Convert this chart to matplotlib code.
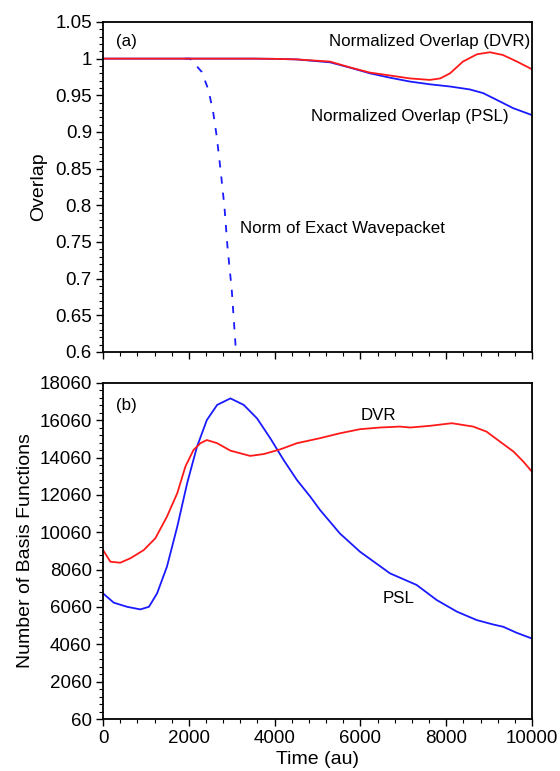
import numpy as np
import matplotlib
matplotlib.use("Agg")
import matplotlib.pyplot as plt
from matplotlib.ticker import MultipleLocator, FixedLocator

plt.rcParams['font.family'] = ['Liberation Sans', 'DejaVu Sans']

# --- (a) overlap ---
t_dvr_a = [0, 1000, 2000, 3000, 3500, 4000, 4500, 5290, 5760, 6220, 6690, 7160, 7620,
           7860, 8090, 8390, 8720, 9020, 9320, 9650, 10000]
ov_dvr = [1.0, 1.0, 1.0, 1.0, 1.0, 0.9997, 0.999, 0.996, 0.988, 0.981, 0.977, 0.973,
          0.971, 0.973, 0.980, 0.996, 1.006, 1.0087, 1.005, 0.996, 0.9855]

t_psl_a = [0, 1000, 2000, 3000, 3500, 4000, 4500, 5290, 5760, 6220, 6690, 7160, 7620,
           8090, 8550, 8860, 9170, 9560, 10000]
ov_psl = [1.0, 1.0, 1.0, 1.0, 1.0, 0.9997, 0.999, 0.995, 0.9877, 0.980, 0.974, 0.9687,
          0.965, 0.962, 0.958, 0.953, 0.944, 0.9325, 0.923]

t_norm = [1900, 2030, 2300, 2460, 2570, 2650, 2740, 2830, 2900, 3000, 3100]
norm_exact = [1.0, 1.0, 0.982, 0.957, 0.926, 0.894, 0.848, 0.798, 0.744, 0.685, 0.6]

# --- (b) number of basis functions ---
t_dvr_b = [0, 170, 400, 640, 950, 1220, 1490, 1730, 1920, 2110, 2270, 2420, 2660, 2970,
           3430, 3750, 4130, 4520, 5060, 5520, 5990, 6460, 6920, 7160, 7620, 8130, 8630,
           8940, 9250, 9570, 9800, 10000]
nb_dvr = [9110, 8485, 8430, 8670, 9110, 9740, 10900, 12150, 13580, 14470, 14830, 15000,
          14830, 14430, 14150, 14250, 14500, 14830, 15100, 15360, 15580, 15670, 15720,
          15670, 15760, 15900, 15720, 15450, 14920, 14380, 13840, 13300]

t_psl_b = [0, 250, 560, 870, 1070, 1260, 1490, 1730, 1960, 2190, 2420, 2660, 2970, 3280,
           3590, 3900, 4210, 4520, 4830, 5060, 5520, 5990, 6690, 7310, 7780, 8250, 8710,
           9100, 9330, 9640, 10000]
nb_psl = [6790, 6290, 6070, 5930, 6070, 6790, 8220, 10360, 12680, 14640, 16070, 16880,
          17230, 16880, 16160, 15090, 13930, 12860, 11970, 11250, 10000, 9020, 7860, 7240,
          6430, 5810, 5360, 5120, 5000, 4680, 4370]

RED = '#ff1a1a'
BLUE = '#1a1aff'
TICK_FS = 13.5
LABEL_FS = 14
NOTE_FS = 12.2

fig = plt.figure(figsize=(5.6, 7.71), dpi=100)
ax1 = fig.add_axes([0.184, 0.5435, 0.766, 0.428])
ax2 = fig.add_axes([0.184, 0.0674, 0.766, 0.436])


def style_axis(ax):
    for s in ax.spines.values():
        s.set_linewidth(1.3)
    ax.tick_params(which='major', direction='out', length=5, width=1.0,
                   labelsize=TICK_FS, pad=3)
    ax.tick_params(which='minor', direction='out', length=3, width=0.8)
    ax.set_xlim(0, 10000)
    ax.xaxis.set_major_locator(MultipleLocator(2000))
    ax.xaxis.set_minor_locator(MultipleLocator(400))


# 上段: overlap
ax1.plot(t_norm, norm_exact, color=BLUE, lw=1.3, ls=(0, (4, 5)))
ax1.plot(t_psl_a, ov_psl, color=BLUE, lw=1.3)
ax1.plot(t_dvr_a, ov_dvr, color=RED, lw=1.3)
style_axis(ax1)
ax1.set_ylim(0.6, 1.05)
ax1.yaxis.set_major_locator(FixedLocator(np.arange(0.6, 1.0501, 0.05)))
ax1.yaxis.set_minor_locator(MultipleLocator(0.01))
ax1.yaxis.set_major_formatter(lambda v, p: f"{v:g}")
ax1.set_xticklabels([])
ax1.set_ylabel('Overlap', fontsize=LABEL_FS, labelpad=6)
ax1.text(300, 1.024, '(a)', fontsize=NOTE_FS, va='center')
ax1.text(9970, 1.024, 'Normalized Overlap (DVR)', fontsize=NOTE_FS, ha='right', va='center')
ax1.text(7160, 0.9215, 'Normalized Overlap (PSL)', fontsize=NOTE_FS, ha='center', va='center')
ax1.text(3200, 0.769, 'Norm of Exact Wavepacket', fontsize=NOTE_FS, va='center')

# 下段: number of basis functions
ax2.plot(t_psl_b, nb_psl, color=BLUE, lw=1.3)
ax2.plot(t_dvr_b, nb_dvr, color=RED, lw=1.3)
style_axis(ax2)
ax2.set_ylim(60, 18060)
ax2.yaxis.set_major_locator(FixedLocator(np.arange(60, 18061, 2000)))
ax2.yaxis.set_minor_locator(FixedLocator(np.arange(60, 18061, 400)))
ax2.set_xlabel('Time (au)', fontsize=LABEL_FS, labelpad=3)
ax2.set_ylabel('Number of Basis Functions', fontsize=LABEL_FS)
ax2.text(300, 16830, '(b)', fontsize=NOTE_FS, va='center')
ax2.text(6410, 16340, 'DVR', fontsize=NOTE_FS, ha='center', va='center')
ax2.text(6880, 6540, 'PSL', fontsize=NOTE_FS, ha='center', va='center')

fig.savefig('out.png', dpi=100)
